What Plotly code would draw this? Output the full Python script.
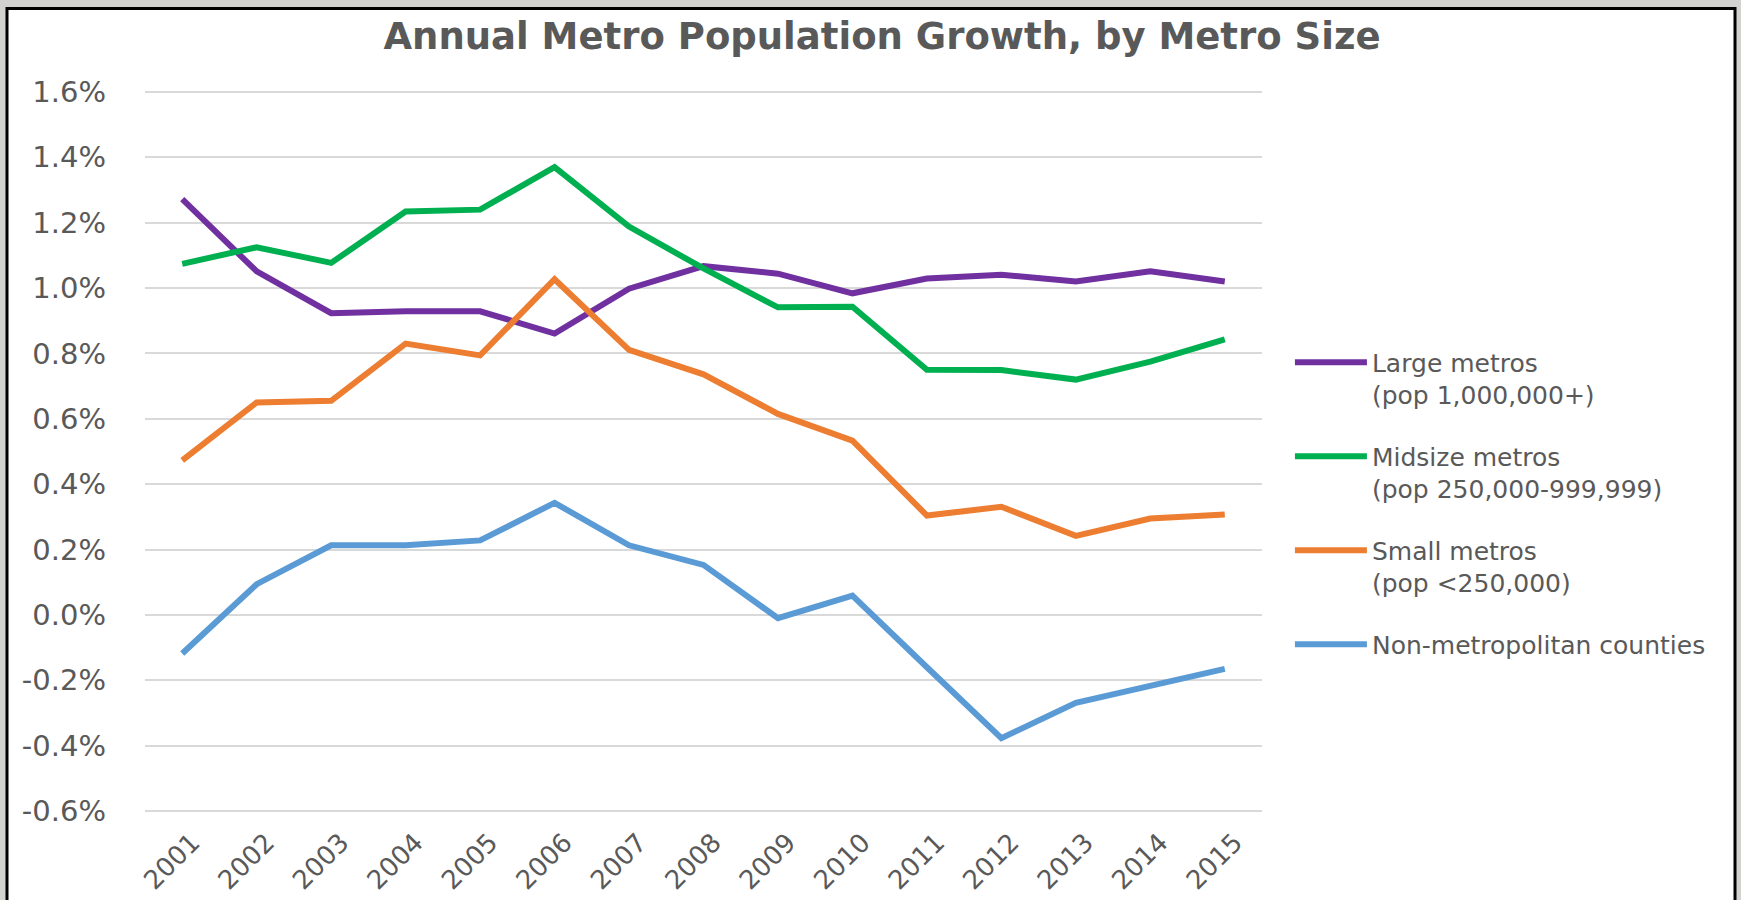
import plotly.graph_objects as go

# Years on the category axis
years = [str(y) for y in range(2001, 2016)]

# Annual population growth (%) by metro size
large_metros = [1.272, 1.051, 0.923, 0.929, 0.929, 0.861, 0.998, 1.067, 1.044, 0.984,
                1.029, 1.041, 1.020, 1.051, 1.020]
midsize_metros = [1.074, 1.125, 1.077, 1.234, 1.240, 1.370, 1.188, 1.060, 0.941, 0.943,
                  0.750, 0.749, 0.720, 0.775, 0.843]
small_metros = [0.473, 0.650, 0.655, 0.830, 0.794, 1.027, 0.811, 0.736, 0.615, 0.533,
                0.304, 0.331, 0.242, 0.295, 0.307]
non_metro = [-0.118, 0.094, 0.213, 0.213, 0.228, 0.343, 0.213, 0.153, -0.010, 0.059,
             -0.160, -0.377, -0.269, -0.216, -0.165]

series_names = [
    "Large metros<br>(pop 1,000,000+)",
    "Midsize metros<br>(pop 250,000-999,999)",
    "Small metros<br>(pop <250,000)",
    "Non-metropolitan counties",
]
series_values = [large_metros, midsize_metros, small_metros, non_metro]
series_colors = ["#7030A0", "#00B050", "#ED7D31", "#5B9BD5"]

y_ticks = [-0.6, -0.4, -0.2, 0.0, 0.2, 0.4, 0.6, 0.8, 1.0, 1.2, 1.4, 1.6]
y_labels = [f"{v:.1f}%" for v in y_ticks]

W, H = 1741, 900
TEXT = "#595959"
FONT = "DejaVu Sans"

# plot area: -0.6% at y=811px, 1.6% at y=91.5px; range padded so edge gridlines show
PAD = 0.006
PX_PER_UNIT = (811 - 91.5) / 2.2
pad_px = PAD * PX_PER_UNIT
top = 91.5 - pad_px
bottom = 811 + pad_px
plot_h = bottom - top

fig = go.Figure()
for i, (name, vals, col) in enumerate(zip(series_names, series_values, series_colors)):
    fig.add_trace(go.Scatter(
        x=years, y=vals, name=name, mode="lines",
        line=dict(color=col, width=6),
        legendgroup=f"g{i}",
    ))

fig.update_layout(
    width=W, height=H,
    paper_bgcolor="#d2d2cf",
    plot_bgcolor="white",
    margin=dict(l=145, r=W - 1262, t=top, b=H - bottom, autoexpand=False),
    showlegend=True,
    title=dict(
        text="<b>Annual Metro Population Growth, by Metro Size</b>",
        x=882 / W, xref="container", xanchor="center",
        y=1 - 36 / H, yref="container", yanchor="middle",
        font=dict(family=FONT, size=37, color=TEXT),
    ),
    legend=dict(
        x=1.025, xanchor="left", y=0.655, yanchor="top",
        font=dict(family=FONT, size=25, color=TEXT),
        bgcolor="rgba(0,0,0,0)",
        valign="top",
        itemwidth=72,
        tracegroupgap=26,
        traceorder="grouped",
    ),
    xaxis=dict(
        type="category",
        range=[-0.5, 14.5],
        showgrid=False, zeroline=False, showline=False,
        tickangle=-45,
        tickfont=dict(family=FONT, size=26, color=TEXT),
        ticks="", ticklabelstandoff=8, ticklabelshift=10,
    ),
    yaxis=dict(
        range=[-0.6 - PAD, 1.6 + PAD],
        tickvals=y_ticks, ticktext=y_labels,
        showgrid=True, gridcolor="#d9d9d9", gridwidth=2,
        zeroline=False, showline=False,
        tickfont=dict(family=FONT, size=29, color=TEXT),
        ticks="", ticklabelstandoff=38,
    ),
    shapes=[
        # white chart area with black frame
        dict(type="rect", xref="paper", yref="paper",
             x0=-138 / 1117, x1=(1735 - 145) / 1117,
             y0=-0.2, y1=1 + (top - 8) / plot_h,
             fillcolor="white", line=dict(color="black", width=3),
             layer="below"),
    ],
)

fig.write_html("out.html")
